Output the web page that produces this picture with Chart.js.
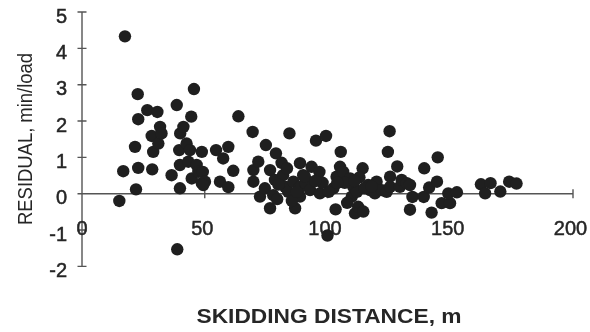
<!DOCTYPE html>
<html>
<head>
<meta charset="utf-8">
<script src="https://cdn.jsdelivr.net/npm/chart.js"></script>
<style>
  html, body { margin: 0; padding: 0; background: #fff; }
</style>
</head>
<body>
<canvas id="myChart" width="590" height="332"></canvas>
<script>
// skidding distance (m) and residual (min/load)
const distance = [
  15.2, 16.8, 17.5, 21.6, 22, 22.7, 22.9, 22.9, 26.6, 28.4, 28.6, 29, 30.7, 31.1, 31.8, 32.4, 36.5,
  38.6, 38.8, 39.6, 39.9, 39.9, 40, 41.3, 42.6, 43.3, 44, 44.5, 44.7, 45.6, 46.7, 47.4, 48.8, 48.8,
  49.2, 50.1, 49.4, 54.6, 56.2, 57.5, 59.6, 59.6, 61.6, 63.7, 69.5, 69.8, 69.8, 71.8, 72.5, 74.5,
  74.9, 76.6, 76.6, 77.9, 78.6, 79, 81.3, 81.9, 82.7, 84, 84.5, 86.1, 86.8, 88.8, 88.8, 88.8, 90.1,
  80, 83.5, 85.5, 79.5, 87.5, 91,
  90.8, 92.9, 93.5, 95.3, 96.7, 96.9, 99.4, 100, 102.4, 103.3, 103.7, 105.1, 105.4, 106.4, 109.2,
  109.9, 110.5, 111.2, 112.5, 114.3, 114.6, 116.6, 117.3, 119.3, 120, 122.1, 124.1, 124.6, 125.3,
  125.5, 125.5, 128.4, 129.5, 130.2, 132.3, 133.6, 134.6, 133.6, 139.4, 139.2, 141.4, 142.4, 144.6,
  144.9, 146.5, 149.9, 149.2, 152.7, 162.5, 164.2, 166.4, 170.4, 174, 177, 98, 107, 112, 113, 108,
  95, 100.5, 104, 115, 118, 111
];
const residual = [
  -0.2, 0.62, 4.33, 1.29, 0.12, 2.74, 2.05, 0.71, 2.30, 1.59, 0.67, 1.15, 2.25, 1.38, 1.84, 1.66, 0.51,
  2.44, -1.53, 1.2, 0.79, 0.15, 1.66, 1.84, 1.38, 0.88, 1.2, 2.12, 0.42, 2.88, 0.79, 0.6, 0.29, 1.15,
  0.6, 0.33, 0.24, 1.2, 0.33, 0.97, 1.29, 0.18, 0.63, 2.13, 1.70, 0.65, 0.33, 0.88, -0.08, 0.15,
  1.34, 0.65, -0.4, -0.04, 0.38, 1.11, 0.85, 0.51, 0.19, 0.05, 1.66, 0.33, -0.4, 0.84, -0.08, 0.19, 0.51,
  0.25, 0.7, -0.2, -0.15, 0.05, 0.3,
  0.47, 0.10, 0.74, 1.46, 0.6, 0.01, 1.59, -1.15, 0.15, -0.43, 0.47, 0.74, 1.15, 0.6, 0.42,
  -0.08, 0.19, -0.54, -0.36, 0.70, -0.49, 0.24, 0.10, 0.01, 0.33, 0.10, 0.05, 1.15, 1.72,
  0.47, 0.19, 0.75, 0.19, 0.38, 0.29, -0.44, -0.09, 0.24, 0.70, -0.09, 0.17, -0.52, 0.33,
  1.0, -0.26, -0.26, 0.01, 0.04, 0.26, 0.01, 0.29, 0.06, 0.33, 0.28, 0.3, 0.3, 0.05, 0.45, -0.25,
  0.35, 0.05, 0.3, 0.15, 0.2, 0.35
];
const xTicks = [0, 50, 100, 150, 200];
const yTicks = [-2, -1, 0, 1, 2, 3, 4, 5];
const xTitle = 'SKIDDING DISTANCE, m';
const yTitle = 'RESIDUAL, min/load';

const points = distance.map((d, i) => ({ x: d, y: residual[i] }));

// draws a string squeezed/stretched to a given length
function fitText(ctx, text, x, y, len, rot) {
  ctx.save();
  ctx.translate(x, y);
  ctx.rotate(rot);
  const w = ctx.measureText(text).width;
  ctx.scale(len / w, 1);
  ctx.fillText(text, 0, 0);
  ctx.restore();
}

// axes cross at (0,0), so draw them by hand from the scales
const crossAxes = {
  id: 'crossAxes',
  beforeDatasetsDraw(chart) {
    const ctx = chart.ctx;
    const xs = chart.scales.x, ys = chart.scales.y;
    const x0 = xs.getPixelForValue(0), y0 = ys.getPixelForValue(0);

    ctx.save();
    ctx.strokeStyle = '#555';
    ctx.lineWidth = 1.4;
    ctx.beginPath();
    ctx.moveTo(x0, ys.getPixelForValue(5));
    ctx.lineTo(x0, ys.getPixelForValue(-2));
    ctx.moveTo(x0, y0);
    ctx.lineTo(xs.getPixelForValue(200), y0);
    yTicks.forEach(v => {
      const p = ys.getPixelForValue(v);
      ctx.moveTo(x0 - 4.5, p);
      ctx.lineTo(x0 + 4.5, p);
    });
    xTicks.slice(1).forEach(v => {
      const p = xs.getPixelForValue(v);
      ctx.moveTo(p, y0 - 4.5);
      ctx.lineTo(p, y0 + 4.5);
    });
    ctx.stroke();

    ctx.fillStyle = '#262626';
    ctx.strokeStyle = '#262626';
    ctx.lineWidth = 0.5;
    ctx.font = '20px "Liberation Sans", Arial, sans-serif';
    ctx.textBaseline = 'middle';
    ctx.textAlign = 'right';
    yTicks.forEach(v => {
      const p = ys.getPixelForValue(v) + 5;
      ctx.fillText(String(v), x0 - 15, p);
      ctx.strokeText(String(v), x0 - 15, p);
    });
    ctx.textAlign = 'center';
    xTicks.forEach(v => {
      const p = v === 0 ? xs.getPixelForValue(v) : xs.getPixelForValue(v) - 2.5;
      ctx.fillText(String(v), p, y0 + 36);
      ctx.strokeText(String(v), p, y0 + 36);
    });

    ctx.textBaseline = 'alphabetic';
    ctx.font = 'bold 21px "Liberation Sans", Arial, sans-serif';
    fitText(ctx, xTitle, 329, 323, 265, 0);
    ctx.font = '20px "Liberation Sans", Arial, sans-serif';
    fitText(ctx, yTitle, 32, 139, 172, -Math.PI / 2);
    ctx.restore();
  }
};

new Chart(document.getElementById('myChart'), {
  type: 'scatter',
  data: {
    datasets: [{
      data: points,
      backgroundColor: '#1f1f1f',
      borderWidth: 0,
      pointRadius: 6.2,
      pointHoverRadius: 6.2,
      clip: false
    }]
  },
  options: {
    responsive: false,
    animation: false,
    events: [],
    layout: { autoPadding: false, padding: { left: 82, right: 17, top: 12, bottom: 65.6 } },
    plugins: { legend: { display: false }, tooltip: { enabled: false } },
    scales: {
      x: { type: 'linear', min: 0, max: 200, display: false },
      y: { type: 'linear', min: -2, max: 5, display: false }
    }
  },
  plugins: [crossAxes]
});
</script>
</body>
</html>
